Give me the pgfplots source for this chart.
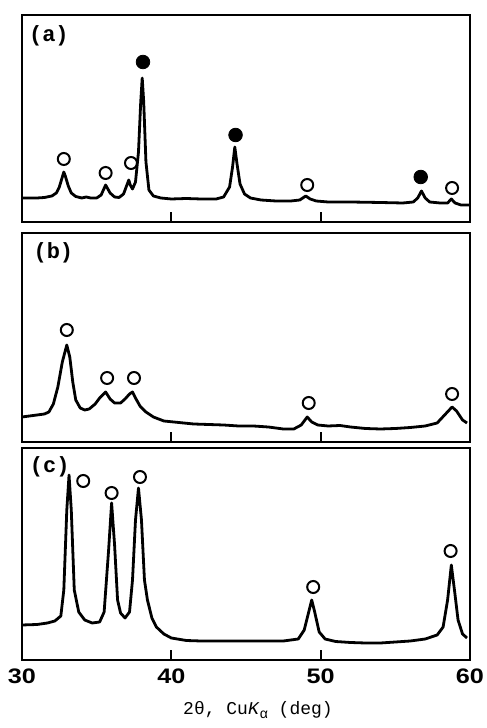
\documentclass[border=0pt]{standalone}
\usepackage{fontspec}
\usepackage{pgfplots}
\pgfplotsset{compat=1.18}
\setmainfont{Liberation Sans}
\newfontfamily\tickfont{Liberation Sans}[FakeStretch=1.2]
\newfontfamily\monofont{Liberation Mono}
\pgfplotsset{
  xrdpanel/.style={
    scale only axis, width=224pt, xmin=30, xmax=60, ymin=0,
    axis line style={line width=1.3pt},
    ytick=\empty, xtick pos=bottom, tick align=inside,
    major tick length=5pt, every tick/.style={line width=1pt, black},
    clip=false,
  },
  spec/.style={black, line width=1.4pt, no marks, line join=round},
  openc/.style={only marks, mark=o, mark size=3pt, black, mark options={line width=1pt}},
  fillc/.style={only marks, mark=*, mark size=3.4pt, black},
}
\begin{document}
\begin{tikzpicture}
\useasboundingbox (0,0) rectangle (243.5pt,364pt);
% ---------- panel (a)
\begin{axis}[xrdpanel, at={(11pt,253pt)}, anchor=south west, height=103.5pt, ymax=207,
  xtick={40,50}, xticklabels={}]
\addplot[spec] coordinates {
(30.0,24) (30.5,24) (31.0,24) (31.5,24.5) (32.0,26) (32.3,29) (32.5,35) (32.7,45) (32.8,50)
(32.9,46) (33.1,36) (33.3,29) (33.6,25.5) (34.0,24) (34.3,25) (34.6,24) (35.0,24) (35.3,27)
(35.6,37) (35.9,29) (36.2,25) (36.5,24.5) (36.8,28) (37.0,36) (37.15,42) (37.25,37) (37.4,33)
(37.6,40) (37.8,70) (37.95,120) (38.05,144) (38.15,120) (38.3,60) (38.5,32) (38.8,26) (39.3,24)
(40.0,23) (41.0,23.5) (42.0,23) (43.0,23) (43.5,25) (43.9,35) (44.1,55) (44.25,75) (44.4,58)
(44.6,38) (44.9,28) (45.3,24) (46.0,22) (47.0,21) (48.0,21) (48.6,22) (49.0,26) (49.3,23)
(49.7,21) (50.5,20) (52,20) (54,19.5) (55.5,19) (56.2,20) (56.5,24) (56.75,31) (57.0,24)
(57.3,20) (58,19) (58.5,19) (58.75,23) (59.0,19) (59.4,17) (60,17)
};
\addplot[openc] coordinates {(32.8,63) (35.6,49) (37.3,59) (49.1,37) (58.8,34)};
\addplot[fillc] coordinates {(38.1,160) (44.3,87) (56.7,45)};
\node[font=\monofont\bfseries\fontsize{11}{12}\selectfont] at (rel axis cs:0.06,0.90) {(a)};
\end{axis}
% ---------- panel (b)
\begin{axis}[xrdpanel, at={(11pt,143pt)}, anchor=south west, height=104.5pt, ymax=209,
  xtick={40,50}, xticklabels={}]
\addplot[spec] coordinates {
(30,25) (30.5,26) (31,27) (31.5,28) (31.8,30) (32.1,38) (32.4,55) (32.7,80) (33.0,97)
(33.2,85) (33.4,60) (33.6,42) (33.9,34) (34.2,32) (34.5,33) (34.9,38) (35.2,44) (35.6,50)
(35.9,43) (36.2,39) (36.6,39) (36.9,43) (37.2,48) (37.4,50) (37.6,44) (37.9,36) (38.3,30)
(38.8,25) (39.5,21) (40.5,19.5) (41.5,18) (42.5,17.5) (43.5,17) (44.5,16) (45.5,16) (46.5,15)
(47.5,13) (48.2,13) (48.7,17) (49.1,25) (49.4,20) (49.8,17) (50.5,16) (51.3,16.5) (52,15)
(53,13.5) (54,13) (55,13.5) (56,14.5) (57,16) (57.8,19) (58.3,27) (58.8,35) (59.1,31)
(59.5,22) (59.8,19)
};
\addplot[openc] coordinates {(33.0,112) (35.7,64) (37.5,64) (49.2,39) (58.8,48)};
\node[font=\monofont\bfseries\fontsize{11}{12}\selectfont] at (rel axis cs:0.07,0.904) {(b)};
\end{axis}
% ---------- panel (c)
\begin{axis}[xrdpanel, at={(11pt,34pt)}, anchor=south west, height=106pt, ymax=212,
  xtick={30,40,50,60}, xticklabels={30,40,50,60},
  /pgf/number format/assume math mode=true,
  xticklabel style={font=\tickfont\bfseries\fontsize{10.5}{12}\selectfont, yshift=-1pt},
  xlabel={\monofont 2θ, Cu\textit{K}\raisebox{-0.4ex}{\fontsize{7}{8}\selectfont α} (deg)},
  xlabel style={font=\fontsize{9}{10}\selectfont, xshift=6pt, yshift=-2pt}]
\addplot[spec] coordinates {
(30,35) (31,35.5) (31.7,37) (32.2,39) (32.6,44) (32.8,70) (33.0,150) (33.15,185) (33.3,150)
(33.5,70) (33.8,48) (34.2,40) (34.7,37) (35.2,38) (35.5,48) (35.8,110) (36.0,157) (36.2,115)
(36.4,60) (36.6,47) (36.9,42) (37.2,48) (37.4,80) (37.6,140) (37.8,172) (38.0,140) (38.2,80)
(38.4,60) (38.7,42) (39.0,33) (39.5,26) (40.0,22) (41,19.5) (42,19) (44,19) (46,19) (47.5,19)
(48.5,21) (48.9,30) (49.2,48) (49.4,60) (49.6,48) (49.9,28) (50.3,21) (51,18.5) (52,17.5)
(53,17) (54,17) (55,18) (56,19) (57,21) (57.8,25) (58.2,33) (58.5,60) (58.75,95) (59.0,65)
(59.2,40) (59.5,26) (59.8,22)
};
\addplot[openc] coordinates {(34.1,179) (36.0,167) (37.9,183) (49.5,73) (58.7,109)};
\node[font=\monofont\bfseries\fontsize{11}{12}\selectfont] at (rel axis cs:0.062,0.91) {(c)};
\end{axis}
\end{tikzpicture}
\end{document}
